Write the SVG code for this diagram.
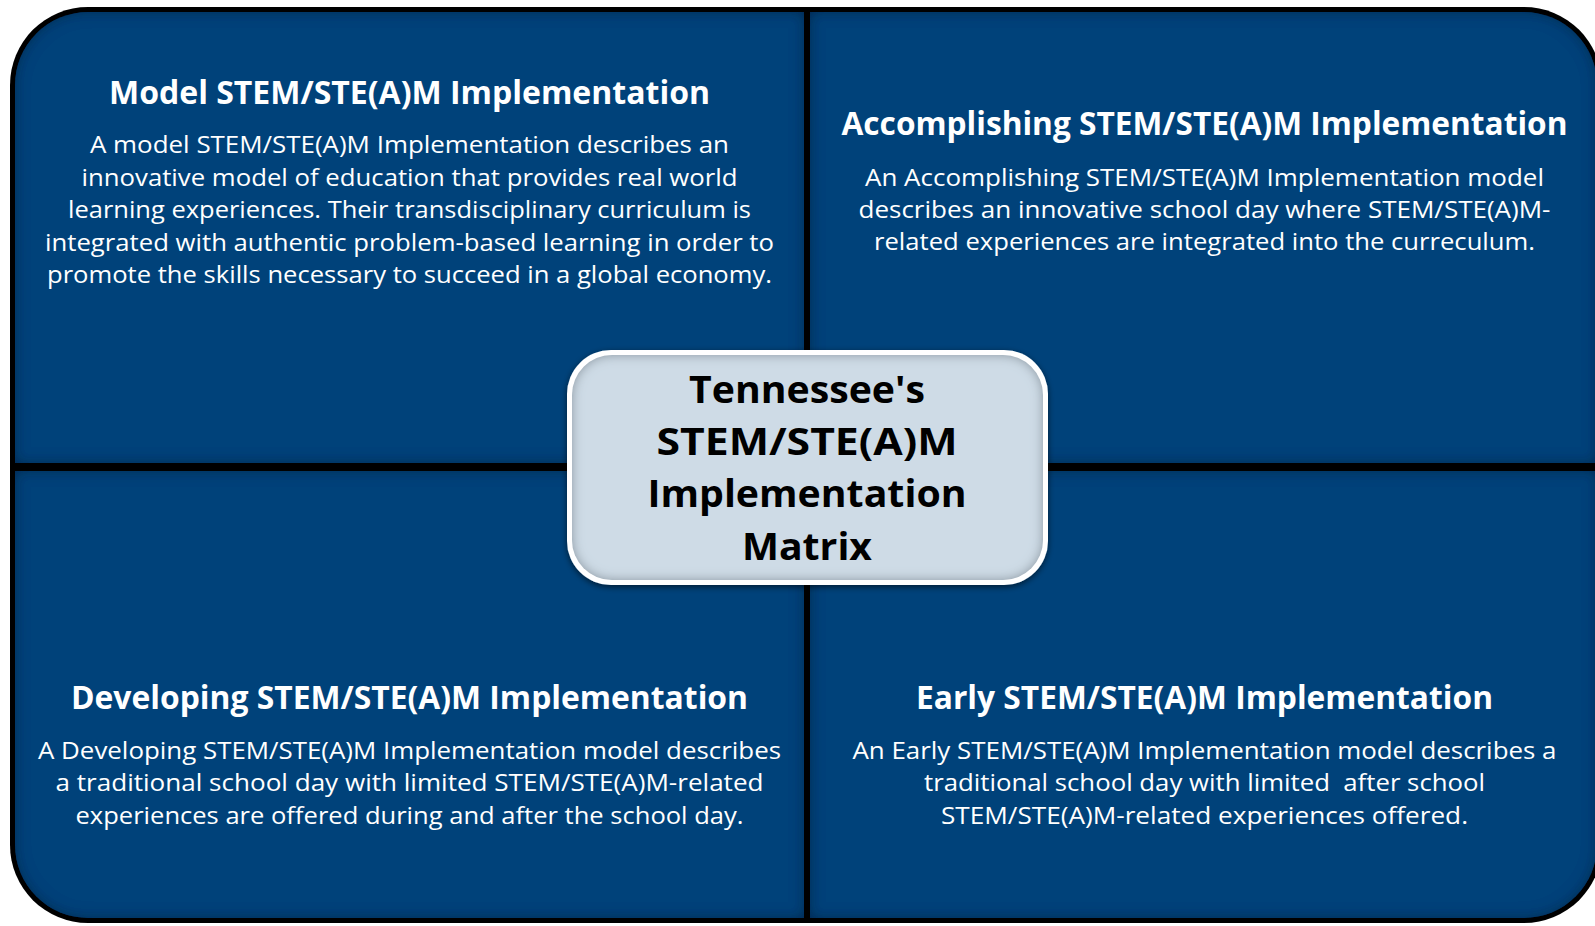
<svg xmlns="http://www.w3.org/2000/svg" width="1595" height="926" viewBox="0 0 1595 926">
<style>
.q{fill:#03437A;filter:url(#inset)}
.t{font-family:"Open Sans","Liberation Sans",sans-serif;font-weight:bold;font-size:32px;fill:#fff;text-anchor:middle}
.b{font-family:"Open Sans","Liberation Sans",sans-serif;font-size:24px;fill:#fff;text-anchor:middle}
.c{font-family:"Open Sans","Liberation Sans",sans-serif;font-weight:bold;font-size:38px;fill:#000;text-anchor:middle}
</style>
<defs>
<filter id="inset" x="-5%" y="-5%" width="110%" height="110%">
<feComponentTransfer in="SourceAlpha" result="inv"><feFuncA type="table" tableValues="1 0"/></feComponentTransfer>
<feGaussianBlur in="inv" stdDeviation="7" result="blur"/>
<feFlood flood-color="#001a33" flood-opacity="0.75"/>
<feComposite operator="in" in2="blur"/>
<feComposite operator="in" in2="SourceAlpha" result="sh"/>
<feMerge><feMergeNode in="SourceGraphic"/><feMergeNode in="sh"/></feMerge>
</filter>
<filter id="inset2" x="-10%" y="-10%" width="120%" height="120%">
<feComponentTransfer in="SourceAlpha" result="inv"><feFuncA type="table" tableValues="1 0"/></feComponentTransfer>
<feGaussianBlur in="inv" stdDeviation="6" result="blur"/>
<feFlood flood-color="#5e6b76" flood-opacity="0.8"/>
<feComposite operator="in" in2="blur"/>
<feComposite operator="in" in2="SourceAlpha" result="sh"/>
<feMerge><feMergeNode in="SourceGraphic"/><feMergeNode in="sh"/></feMerge>
</filter>
<filter id="drop" x="-10%" y="-10%" width="120%" height="120%">
<feGaussianBlur in="SourceAlpha" stdDeviation="3"/>
<feOffset dx="0" dy="2" result="o"/>
<feFlood flood-color="#000" flood-opacity="0.6"/>
<feComposite operator="in" in2="o"/>
<feMerge><feMergeNode/><feMergeNode in="SourceGraphic"/></feMerge>
</filter>
</defs>
<rect width="1595" height="926" fill="#fff"/>
<rect x="10" y="7" width="1592" height="916" rx="78" fill="#000"/>

<g id="model">
<path class="q" d="M15,463 L15,85 A73,73 0 0 1 88,12 L804,12 L804,463 Z"/>
<text class="t" x="409.5" y="104" textLength="601" lengthAdjust="spacingAndGlyphs">Model STEM/STE(A)M Implementation</text>
<text class="b" x="409.5" y="153" textLength="639" lengthAdjust="spacingAndGlyphs">A model STEM/STE(A)M Implementation describes an</text>
<text class="b" x="409.5" y="185.5" textLength="656" lengthAdjust="spacingAndGlyphs">innovative model of education that provides real world</text>
<text class="b" x="409.5" y="218" textLength="683" lengthAdjust="spacingAndGlyphs">learning experiences. Their transdisciplinary curriculum is</text>
<text class="b" x="409.5" y="250.5" textLength="729" lengthAdjust="spacingAndGlyphs">integrated with authentic problem-based learning in order to</text>
<text class="b" x="409.5" y="283" textLength="725" lengthAdjust="spacingAndGlyphs">promote the skills necessary to succeed in a global economy.</text>
</g>

<g id="accomplishing">
<path class="q" d="M810,12 L1524,12 A73,73 0 0 1 1597,85 L1597,463 L810,463 Z"/>
<text class="t" x="1204.5" y="135" textLength="726" lengthAdjust="spacingAndGlyphs">Accomplishing STEM/STE(A)M Implementation</text>
<text class="b" x="1204.5" y="186" textLength="679" lengthAdjust="spacingAndGlyphs">An Accomplishing STEM/STE(A)M Implementation model</text>
<text class="b" x="1204.5" y="218" textLength="692" lengthAdjust="spacingAndGlyphs">describes an innovative school day where STEM/STE(A)M-</text>
<text class="b" x="1204.5" y="250" textLength="661" lengthAdjust="spacingAndGlyphs">related experiences are integrated into the curreculum.</text>
</g>

<g id="developing">
<path class="q" d="M15,471 L804,471 L804,918 L88,918 A73,73 0 0 1 15,845 Z"/>
<text class="t" x="409.5" y="709" textLength="677" lengthAdjust="spacingAndGlyphs">Developing STEM/STE(A)M Implementation</text>
<text class="b" x="409.5" y="759" textLength="743" lengthAdjust="spacingAndGlyphs">A Developing STEM/STE(A)M Implementation model describes</text>
<text class="b" x="409.5" y="791" textLength="708" lengthAdjust="spacingAndGlyphs">a traditional school day with limited STEM/STE(A)M-related</text>
<text class="b" x="409.5" y="824" textLength="668" lengthAdjust="spacingAndGlyphs">experiences are offered during and after the school day.</text>
</g>

<g id="early">
<path class="q" d="M810,471 L1597,471 L1597,845 A73,73 0 0 1 1524,918 L810,918 Z"/>
<text class="t" x="1204.5" y="709" textLength="577" lengthAdjust="spacingAndGlyphs">Early STEM/STE(A)M Implementation</text>
<text class="b" x="1204.5" y="759" textLength="704" lengthAdjust="spacingAndGlyphs">An Early STEM/STE(A)M Implementation model describes a</text>
<text class="b" x="1204.5" y="791" textLength="561" lengthAdjust="spacingAndGlyphs" xml:space="preserve">traditional school day with limited  after school</text>
<text class="b" x="1204.5" y="824" textLength="527" lengthAdjust="spacingAndGlyphs">STEM/STE(A)M-related experiences offered.</text>
</g>

<g id="connectors"></g>

<g id="center">
<rect x="567" y="350" width="481" height="235" rx="44" fill="#fff" filter="url(#drop)"/>
<rect x="572" y="355" width="471" height="225" rx="40" fill="#CEDBE6" filter="url(#inset2)"/>
<text class="c" x="807" y="403" textLength="236" lengthAdjust="spacingAndGlyphs">Tennessee's</text>
<text class="c" x="807" y="455" textLength="301" lengthAdjust="spacingAndGlyphs">STEM/STE(A)M</text>
<text class="c" x="807" y="507" textLength="319" lengthAdjust="spacingAndGlyphs">Implementation</text>
<text class="c" x="807" y="560" textLength="130" lengthAdjust="spacingAndGlyphs">Matrix</text>
</g>
</svg>
